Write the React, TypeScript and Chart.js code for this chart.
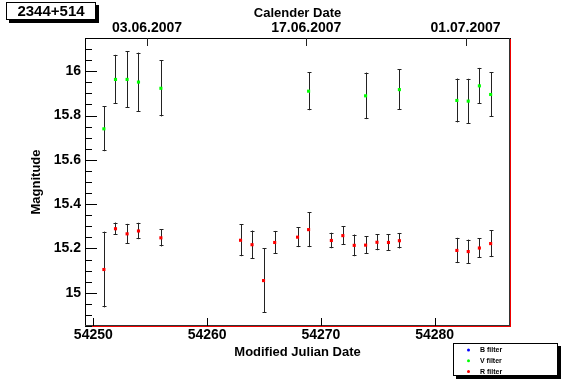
import { useEffect, useRef } from 'react';
import { Chart, registerables } from 'chart.js';

Chart.register(...registerables);

// ---- data ----
const mjdV = [54250.93, 54251.95, 54252.97, 54253.97, 54255.94, 54268.92, 54273.93, 54276.9, 54281.95, 54282.95, 54283.93, 54284.92];
const magV = [15.74, 15.963, 15.963, 15.951, 15.923, 15.91, 15.889, 15.917, 15.868, 15.865, 15.934, 15.895];
const errV = [0.101, 0.111, 0.127, 0.133, 0.127, 0.086, 0.105, 0.092, 0.099, 0.101, 0.081, 0.1];

const mjdR = [54250.93, 54251.95, 54252.97, 54253.97, 54255.94, 54262.94, 54263.95, 54264.96, 54265.94, 54267.95, 54268.92, 54270.92, 54271.93, 54272.93, 54273.93, 54274.93, 54275.94, 54276.9, 54281.95, 54282.95, 54283.93, 54284.92];
const magR = [15.105, 15.289, 15.266, 15.279, 15.248, 15.237, 15.217, 15.055, 15.227, 15.251, 15.285, 15.236, 15.258, 15.214, 15.215, 15.228, 15.227, 15.235, 15.191, 15.186, 15.202, 15.222];
const errR = [0.171, 0.028, 0.045, 0.037, 0.039, 0.072, 0.064, 0.146, 0.052, 0.045, 0.079, 0.035, 0.042, 0.049, 0.04, 0.036, 0.038, 0.035, 0.057, 0.054, 0.044, 0.061];

const xMin = 54249.27;
const xMax = 54286.62;
const yMin = 14.85;
const yMax = 16.15;

const xTicks = [54250, 54260, 54270, 54280];
const xTickLabels = ['54250', '54260', '54270', '54280'];
const dateTicks = [54254.72, 54268.72, 54282.72];
const dateTickLabels = ['03.06.2007', '17.06.2007', '01.07.2007'];
const yTicks = [15, 15.2, 15.4, 15.6, 15.8, 16];
const yTickLabels = ['15', '15.2', '15.4', '15.6', '15.8', '16'];
const yMinorStep = 0.05;

const legendLabels = ['B filter', 'V filter', 'R filter'];
const legendColors = ['#0000ff', '#00ff00', '#ff0000'];
const plotTitle = '2344+514';

const FONT = "'Liberation Sans', Arial, Helvetica, sans-serif";

const rootPlugin = {
  id: 'rootStyle',
  beforeDatasetsDraw(chart: any) {
    const ctx = chart.ctx as CanvasRenderingContext2D;
    const ca = chart.chartArea;
    const L = Math.round(ca.left);
    const R = Math.round(ca.right);
    const T = Math.round(ca.top);
    const B = Math.round(ca.bottom);
    const xs = chart.scales.x;
    const xt = chart.scales.x2;
    const ys = chart.scales.y;
    const seg = (x1: number, y1: number, x2: number, y2: number) => {
      ctx.beginPath();
      ctx.moveTo(x1, y1);
      ctx.lineTo(x2, y2);
      ctx.stroke();
    };
    ctx.save();
    ctx.lineWidth = 1;
    // frame
    ctx.strokeStyle = '#ee0000';
    seg(L, B + 0.5, R + 1, B + 0.5);
    seg(R + 0.5, T, R + 0.5, B + 1);
    ctx.strokeStyle = '#000000';
    seg(L + 0.5, T, L + 0.5, B + 1);
    seg(L, T + 0.5, R + 1, T + 0.5);
    ctx.strokeStyle = '#333333';
    seg(L, B - 0.5, R, B - 0.5);
    seg(R - 0.5, T, R - 0.5, B);

    // y ticks
    ctx.strokeStyle = '#000000';
    const nMin = Math.ceil(yMin / yMinorStep - 1e-6);
    const nMax = Math.floor(yMax / yMinorStep + 1e-6);
    for (let n = nMin; n <= nMax; n++) {
      const v = n * yMinorStep;
      const major = yTicks.some((t) => Math.abs(t - v) < 1e-6);
      const py = Math.round(ys.getPixelForValue(v)) + 0.5;
      seg(L, py, L + (major ? 12 : 7), py);
    }
    // bottom x ticks
    xTicks.forEach((v) => {
      const px = Math.round(xs.getPixelForValue(v)) + 0.5;
      seg(px, B, px, B - 8);
    });
    // top date ticks
    ctx.strokeStyle = '#222222';
    dateTicks.forEach((v) => {
      const px = Math.round(xt.getPixelForValue(v)) + 0.5;
      seg(px, T, px, T + 8);
    });

    // error bars
    ctx.strokeStyle = '#222222';
    chart.data.datasets.forEach((ds: any) => {
      const errs: number[] = ds.errs || [];
      ds.data.forEach((p: any, i: number) => {
        const e = errs[i];
        if (e == null) return;
        const px = Math.round(xs.getPixelForValue(p.x)) + 0.5;
        const y1 = ys.getPixelForValue(p.y + e);
        const y2 = ys.getPixelForValue(p.y - e);
        seg(px, y1, px, y2);
        seg(px - 2, Math.round(y1) + 0.5, px + 2, Math.round(y1) + 0.5);
        seg(px - 2, Math.round(y2) - 0.5, px + 2, Math.round(y2) - 0.5);
      });
    });
    ctx.restore();
  },
  afterDraw(chart: any) {
    const ctx = chart.ctx as CanvasRenderingContext2D;
    ctx.save();
    // title box
    ctx.fillStyle = '#000000';
    ctx.fillRect(9, 5, 90, 18);
    ctx.fillStyle = '#ffffff';
    ctx.fillRect(6, 2, 90, 18);
    ctx.strokeStyle = '#000000';
    ctx.lineWidth = 1;
    ctx.strokeRect(6.5, 2.5, 89, 17);
    ctx.fillStyle = '#000000';
    ctx.font = `bold 15px ${FONT}`;
    ctx.textAlign = 'center';
    ctx.textBaseline = 'middle';
    ctx.fillText(plotTitle, 51, 12);

    // legend box
    const lx = 453, ly = 343, lw = 105, lh = 33;
    ctx.fillStyle = '#000000';
    ctx.fillRect(lx + 3, ly + 3, lw, lh);
    ctx.fillStyle = '#ffffff';
    ctx.fillRect(lx, ly, lw, lh);
    ctx.strokeRect(lx + 0.5, ly + 0.5, lw - 1, lh - 1);
    ctx.font = `bold 7px ${FONT}`;
    ctx.textAlign = 'left';
    legendLabels.forEach((lab, i) => {
      const yy = ly + 7 + i * 10.7;
      ctx.fillStyle = legendColors[i];
      ctx.beginPath();
      ctx.arc(lx + 15.5, yy, 1.5, 0, Math.PI * 2);
      ctx.fill();
      ctx.fillStyle = '#000000';
      ctx.fillText(lab, lx + 27, yy + 0.5);
    });
    ctx.restore();
  },
};

export default function App() {
  const ref = useRef<HTMLCanvasElement | null>(null);
  useEffect(() => {
    if (!ref.current) return;
    const tickFont = { family: FONT, size: 14, weight: 'bold' as const };
    const titleFont = { family: FONT, size: 13, weight: 'bold' as const };
    const chart = new Chart(ref.current, {
      type: 'scatter',
      data: {
        datasets: [
          {
            label: 'V filter',
            data: mjdV.map((x, i) => ({ x, y: magV[i] })),
            backgroundColor: '#00ff00',
            borderColor: '#00ff00',
            pointStyle: 'rect',
            pointRadius: 2.2,
            pointBorderWidth: 0,
            errs: errV,
          } as any,
          {
            label: 'R filter',
            data: mjdR.map((x, i) => ({ x, y: magR[i] })),
            backgroundColor: '#ff0000',
            borderColor: '#ff0000',
            pointStyle: 'rect',
            pointRadius: 2.2,
            pointBorderWidth: 0,
            errs: errR,
          } as any,
        ],
      },
      options: {
        animation: false,
        responsive: false,
        devicePixelRatio: 1,
        layout: { padding: { left: 0, right: 57, top: 0, bottom: 0 } },
        plugins: { legend: { display: false }, tooltip: { enabled: false } },
        events: [],
        scales: {
          x: {
            type: 'linear',
            position: 'bottom',
            min: xMin,
            max: xMax,
            grid: { display: false, drawTicks: false },
            border: { display: false },
            afterBuildTicks: (s: any) => {
              s.ticks = xTicks.map((v) => ({ value: v }));
            },
            ticks: {
              font: tickFont,
              color: '#000000',
              padding: 1,
              maxRotation: 0,
              minRotation: 0,
              autoSkip: false,
              callback: (_v: any, i: number) => xTickLabels[i],
            },
            title: {
              display: true,
              text: 'Modified Julian Date',
              font: titleFont,
              color: '#000000',
              padding: { top: 0, bottom: 24 },
            },
            afterFit: (s: any) => {
              s.height = 58;
            },
          },
          x2: {
            type: 'linear',
            position: 'top',
            min: xMin,
            max: xMax,
            grid: { display: false, drawTicks: false },
            border: { display: false },
            afterBuildTicks: (s: any) => {
              s.ticks = dateTicks.map((v) => ({ value: v }));
            },
            ticks: {
              font: tickFont,
              color: '#000000',
              padding: 1,
              maxRotation: 0,
              minRotation: 0,
              autoSkip: false,
              callback: (_v: any, i: number) => dateTickLabels[i],
            },
            title: {
              display: true,
              text: 'Calender Date',
              font: titleFont,
              color: '#000000',
              padding: { top: 6, bottom: 0 },
            },
            afterFit: (s: any) => {
              s.height = 38;
            },
          },
          y: {
            type: 'linear',
            position: 'left',
            min: yMin,
            max: yMax,
            grid: { display: false, drawTicks: false },
            border: { display: false },
            afterBuildTicks: (s: any) => {
              s.ticks = yTicks.map((v) => ({ value: v }));
            },
            ticks: {
              font: tickFont,
              color: '#000000',
              padding: 4,
              autoSkip: false,
              callback: (_v: any, i: number) => yTickLabels[i],
            },
            title: {
              display: true,
              text: 'Magnitude',
              font: titleFont,
              color: '#000000',
              padding: { top: 29, bottom: 0 },
            },
            afterFit: (s: any) => {
              s.width = 85;
            },
          },
        },
      } as any,
      plugins: [rootPlugin],
    });
    return () => chart.destroy();
  }, []);
  return (
    <div style={{ position: 'absolute', left: 0, top: 0, width: 567, height: 384, background: '#ffffff' }}>
      <canvas ref={ref} width={567} height={384} style={{ display: 'block' }} />
    </div>
  );
}
